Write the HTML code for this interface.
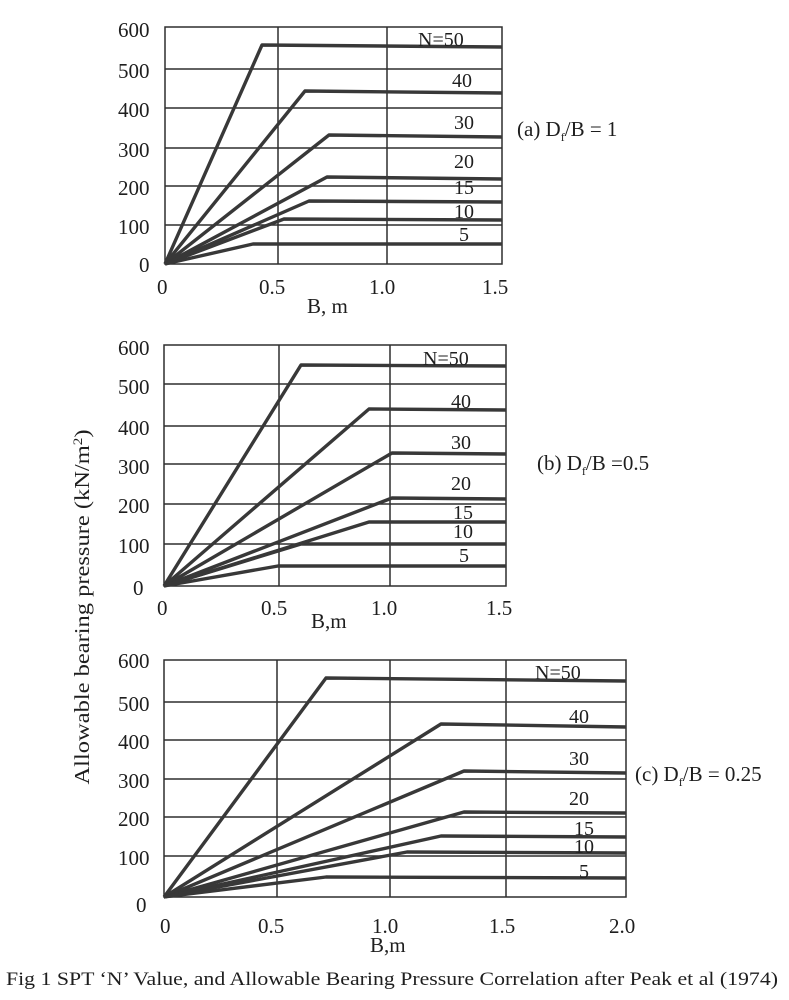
<!DOCTYPE html>
<html><head><meta charset="utf-8"><style>
html,body{margin:0;padding:0;background:#fff;}
svg{display:block;}
text{font-family:"Liberation Serif",serif;fill:#1e1e1e;}
</style></head><body>
<svg width="789" height="1000" viewBox="0 0 789 1000" xmlns="http://www.w3.org/2000/svg">
<!-- Panel a -->
<g stroke="#2e2e2e" stroke-width="1.5" fill="none">
<rect x="165" y="27" width="337" height="237"/>
<line x1="165" y1="69" x2="502" y2="69"/><line x1="165" y1="108" x2="502" y2="108"/>
<line x1="165" y1="148" x2="502" y2="148"/><line x1="165" y1="186" x2="502" y2="186"/>
<line x1="165" y1="225" x2="502" y2="225"/>
<line x1="278" y1="27" x2="278" y2="264"/><line x1="387" y1="27" x2="387" y2="264"/>
</g>
<g stroke="#383838" stroke-width="3.4" fill="none" stroke-linejoin="round">
<polyline points="165,264 262,45 502,47"/>
<polyline points="165,264 305,91 502,93"/>
<polyline points="165,264 329,135 502,137"/>
<polyline points="165,264 327,177 502,179"/>
<polyline points="165,264 309,201 502,202"/>
<polyline points="165,264 284,219 502,220"/>
<polyline points="165,264 253,244 502,244"/>
</g>
<g font-size="21">
<text x="118" y="37">600</text><text x="118" y="78">500</text><text x="118" y="117">400</text>
<text x="118" y="157">300</text><text x="118" y="195">200</text><text x="118" y="234">100</text>
<text x="139" y="272">0</text>
<text x="157" y="294">0</text><text x="259" y="294">0.5</text><text x="369" y="294">1.0</text><text x="482" y="294">1.5</text>
<text x="307" y="313">B, m</text>
<text x="418" y="46" font-size="20">N=50</text><text x="452" y="87" font-size="20">40</text>
<text x="454" y="129" font-size="20">30</text><text x="454" y="168" font-size="20">20</text>
<text x="454" y="194" font-size="20">15</text><text x="454" y="218" font-size="20">10</text>
<text x="459" y="241" font-size="20">5</text>
<text x="517" y="136">(a) D<tspan font-size="12" dy="5">f</tspan><tspan dy="-5">/B = 1</tspan></text>
</g>
<!-- Panel b -->
<g stroke="#2e2e2e" stroke-width="1.5" fill="none">
<rect x="164" y="345" width="342" height="241"/>
<line x1="164" y1="384" x2="506" y2="384"/><line x1="164" y1="426" x2="506" y2="426"/>
<line x1="164" y1="464" x2="506" y2="464"/><line x1="164" y1="504" x2="506" y2="504"/>
<line x1="164" y1="544" x2="506" y2="544"/>
<line x1="279" y1="345" x2="279" y2="586"/><line x1="390" y1="345" x2="390" y2="586"/>
</g>
<g stroke="#383838" stroke-width="3.4" fill="none" stroke-linejoin="round">
<polyline points="164,586 301,365 506,366"/>
<polyline points="164,586 369,409 506,410"/>
<polyline points="164,586 392,453 506,454"/>
<polyline points="164,586 392,498 506,499"/>
<polyline points="164,586 369,522 506,522"/>
<polyline points="164,586 301,544 506,544"/>
<polyline points="164,586 278,566 506,566"/>
</g>
<g font-size="21">
<text x="118" y="355">600</text><text x="118" y="394">500</text><text x="118" y="435">400</text>
<text x="118" y="474">300</text><text x="118" y="513">200</text><text x="118" y="553">100</text>
<text x="133" y="595">0</text>
<text x="157" y="615">0</text><text x="261" y="615">0.5</text><text x="371" y="615">1.0</text><text x="486" y="615">1.5</text>
<text x="311" y="628">B,m</text>
<text x="423" y="365" font-size="20">N=50</text><text x="451" y="408" font-size="20">40</text>
<text x="451" y="449" font-size="20">30</text><text x="451" y="490" font-size="20">20</text>
<text x="453" y="519" font-size="20">15</text><text x="453" y="538" font-size="20">10</text>
<text x="459" y="562" font-size="20">5</text>
<text x="537" y="470">(b) D<tspan font-size="12" dy="5">f</tspan><tspan dy="-5">/B =0.5</tspan></text>
</g>
<!-- Panel c -->
<g stroke="#2e2e2e" stroke-width="1.5" fill="none">
<rect x="164" y="660" width="462" height="237"/>
<line x1="164" y1="702" x2="626" y2="702"/><line x1="164" y1="740" x2="626" y2="740"/>
<line x1="164" y1="779" x2="626" y2="779"/><line x1="164" y1="817" x2="626" y2="817"/>
<line x1="164" y1="856" x2="626" y2="856"/>
<line x1="277" y1="660" x2="277" y2="897"/><line x1="390" y1="660" x2="390" y2="897"/><line x1="506" y1="660" x2="506" y2="897"/>
</g>
<g stroke="#383838" stroke-width="3.4" fill="none" stroke-linejoin="round">
<polyline points="164,897 326,678 626,681"/>
<polyline points="164,897 441,724 626,727"/>
<polyline points="164,897 464,771 626,773"/>
<polyline points="164,897 464,812 626,813"/>
<polyline points="164,897 441,836 626,837"/>
<polyline points="164,897 407,852 626,853"/>
<polyline points="164,897 326,877 626,878"/>
</g>
<g font-size="21">
<text x="118" y="668">600</text><text x="118" y="711">500</text><text x="118" y="749">400</text>
<text x="118" y="788">300</text><text x="118" y="826">200</text><text x="118" y="865">100</text>
<text x="136" y="912">0</text>
<text x="160" y="933">0</text><text x="258" y="933">0.5</text><text x="372" y="933">1.0</text><text x="489" y="933">1.5</text><text x="609" y="933">2.0</text>
<text x="370" y="952">B,m</text>
<text x="535" y="679" font-size="20">N=50</text><text x="569" y="723" font-size="20">40</text>
<text x="569" y="765" font-size="20">30</text><text x="569" y="805" font-size="20">20</text>
<text x="574" y="835" font-size="20">15</text><text x="574" y="853" font-size="20">10</text>
<text x="579" y="878" font-size="20">5</text>
<text x="635" y="781">(c) D<tspan font-size="12" dy="5">f</tspan><tspan dy="-5">/B = 0.25</tspan></text>
</g>
<!-- y label -->
<text font-size="21" transform="translate(89,607) rotate(-90)" text-anchor="middle" textLength="355" lengthAdjust="spacingAndGlyphs">Allowable bearing pressure (kN/m<tspan font-size="13" dy="-7">2</tspan><tspan dy="7">)</tspan></text>
<!-- caption -->
<text x="6" y="985" font-size="19" textLength="772" lengthAdjust="spacingAndGlyphs">Fig 1 SPT ‘N’ Value, and Allowable Bearing Pressure Correlation after Peak et al (1974)</text>
</svg>
</body></html>
